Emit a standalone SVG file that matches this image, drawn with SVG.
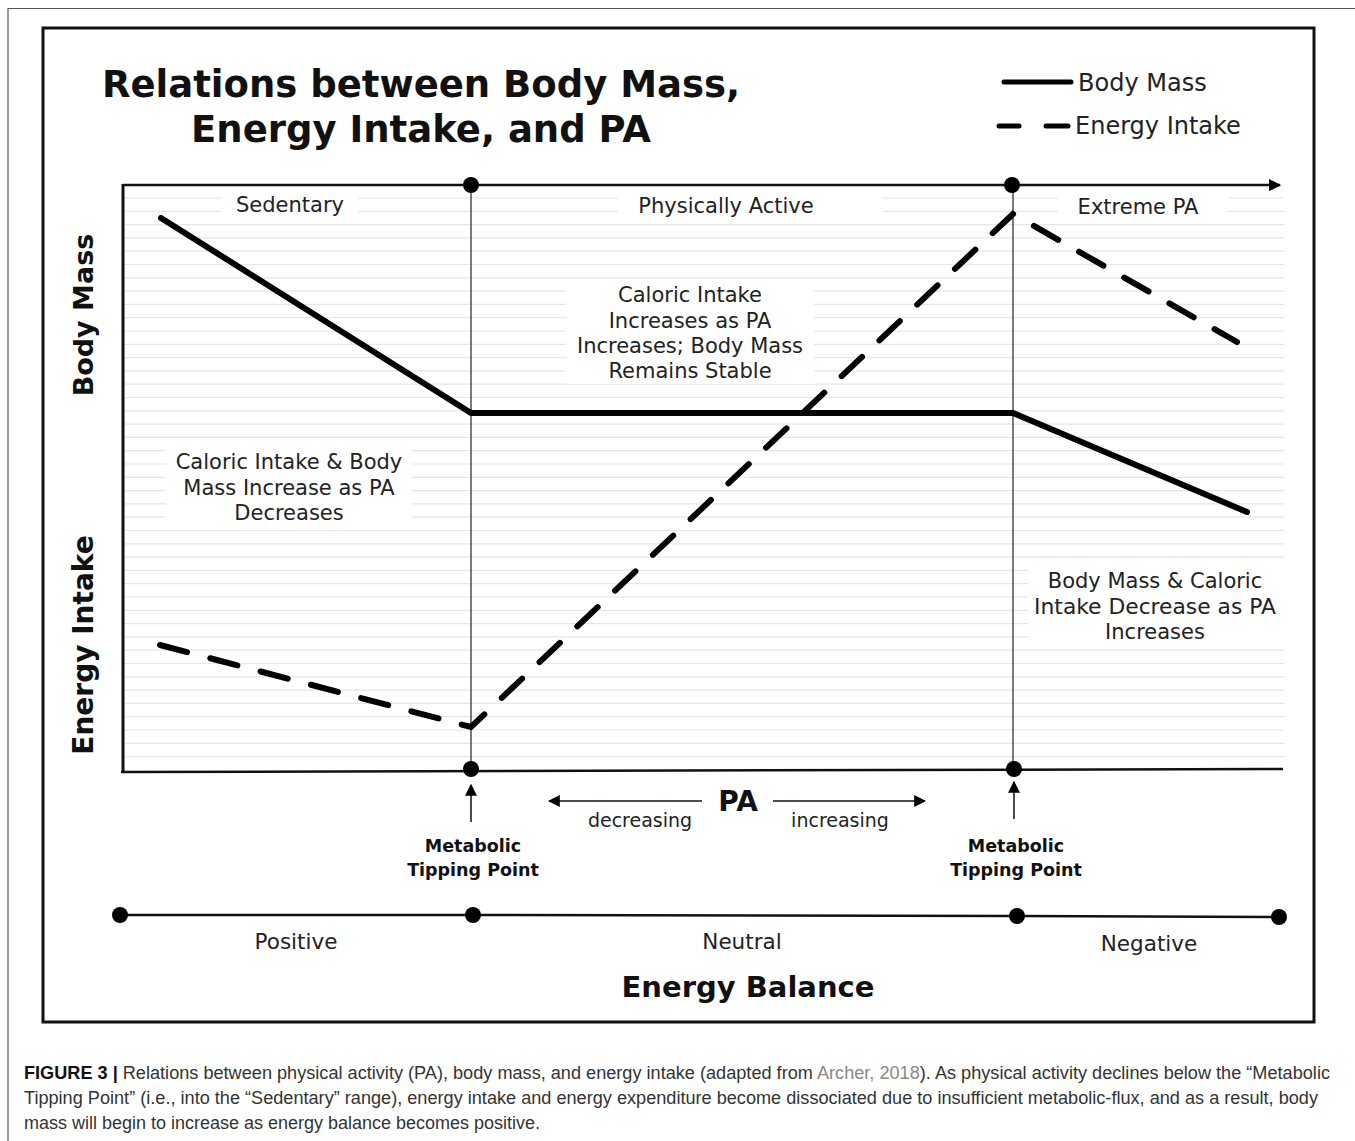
<svg xmlns="http://www.w3.org/2000/svg" width="1355" height="1141" viewBox="0 0 1355 1141">
<style>
.t{font-family:"DejaVu Sans",Verdana,sans-serif;fill:#222;font-size:21px;text-anchor:middle}
.b{font-weight:bold;fill:#111}
.cap{font-family:"Liberation Sans",Arial,sans-serif;font-size:17.5px;fill:#333}
.grid line{stroke:#e6e6e6;stroke-width:1.2}
.bm{fill:none;stroke:#000;stroke-width:6;stroke-linecap:round;stroke-linejoin:round}
.ei{fill:none;stroke:#000;stroke-width:6;stroke-dasharray:28 24;stroke-linecap:round}
.ax{stroke:#111;fill:none}
</style>
<defs>
<marker id="ah" viewBox="0 0 10 10" refX="9" refY="5" markerWidth="5" markerHeight="5" orient="auto"><path d="M0,0L10,5L0,10z" fill="#000"/></marker>
<marker id="ah2" viewBox="0 0 10 10" refX="9" refY="5" markerWidth="12" markerHeight="12" orient="auto" markerUnits="userSpaceOnUse"><path d="M0,0L10,5L0,10z" fill="#000"/></marker>
</defs>
<rect width="1355" height="1141" fill="#fff"/>
<path d="M8,1141V8.5H1355" fill="none" stroke="#555" stroke-width="1.2"/>
<rect x="43" y="28" width="1271" height="994" fill="#fff" stroke="#111" stroke-width="3"/>

<g id="grid" class="grid">
<line x1="125" y1="198" x2="1284" y2="198"/><line x1="125" y1="211.3" x2="1284" y2="211.3"/>
<line x1="125" y1="224.6" x2="1284" y2="224.6"/><line x1="125" y1="237.9" x2="1284" y2="237.9"/>
<line x1="125" y1="251.2" x2="1284" y2="251.2"/><line x1="125" y1="264.5" x2="1284" y2="264.5"/>
<line x1="125" y1="277.8" x2="1284" y2="277.8"/><line x1="125" y1="291.1" x2="1284" y2="291.1"/>
<line x1="125" y1="304.4" x2="1284" y2="304.4"/><line x1="125" y1="317.7" x2="1284" y2="317.7"/>
<line x1="125" y1="331" x2="1284" y2="331"/><line x1="125" y1="344.3" x2="1284" y2="344.3"/>
<line x1="125" y1="357.6" x2="1284" y2="357.6"/><line x1="125" y1="370.9" x2="1284" y2="370.9"/>
<line x1="125" y1="384.2" x2="1284" y2="384.2"/><line x1="125" y1="397.5" x2="1284" y2="397.5"/>
<line x1="125" y1="410.8" x2="1284" y2="410.8"/><line x1="125" y1="424.1" x2="1284" y2="424.1"/>
<line x1="125" y1="437.4" x2="1284" y2="437.4"/><line x1="125" y1="450.7" x2="1284" y2="450.7"/>
<line x1="125" y1="464" x2="1284" y2="464"/><line x1="125" y1="477.3" x2="1284" y2="477.3"/>
<line x1="125" y1="490.6" x2="1284" y2="490.6"/><line x1="125" y1="503.9" x2="1284" y2="503.9"/>
<line x1="125" y1="517.2" x2="1284" y2="517.2"/><line x1="125" y1="530.5" x2="1284" y2="530.5"/>
<line x1="125" y1="543.8" x2="1284" y2="543.8"/><line x1="125" y1="557.1" x2="1284" y2="557.1"/>
<line x1="125" y1="570.4" x2="1284" y2="570.4"/><line x1="125" y1="583.7" x2="1284" y2="583.7"/>
<line x1="125" y1="597" x2="1284" y2="597"/><line x1="125" y1="610.3" x2="1284" y2="610.3"/>
<line x1="125" y1="623.6" x2="1284" y2="623.6"/><line x1="125" y1="636.9" x2="1284" y2="636.9"/>
<line x1="125" y1="650.2" x2="1284" y2="650.2"/><line x1="125" y1="663.5" x2="1284" y2="663.5"/>
<line x1="125" y1="676.8" x2="1284" y2="676.8"/><line x1="125" y1="690.1" x2="1284" y2="690.1"/>
<line x1="125" y1="703.4" x2="1284" y2="703.4"/><line x1="125" y1="716.7" x2="1284" y2="716.7"/>
<line x1="125" y1="730" x2="1284" y2="730"/><line x1="125" y1="743.3" x2="1284" y2="743.3"/>
<line x1="125" y1="756.6" x2="1284" y2="756.6"/>
</g>

<g fill="#fff">
<rect x="222" y="188" width="136" height="32"/>
<rect x="618" y="188" width="264" height="32"/>
<rect x="1058" y="188" width="170" height="32"/>
<rect x="566" y="280" width="248" height="104"/>
<rect x="166" y="447" width="246" height="80"/>
<rect x="1028" y="565" width="256" height="80"/>
</g>

<g id="title">
<text class="t b" x="421" y="97" style="font-size:37px">Relations between Body Mass,</text>
<text class="t b" x="421" y="142" style="font-size:37px">Energy Intake, and PA</text>
</g>

<g id="legend">
<line x1="1004" y1="82" x2="1071" y2="82" stroke="#000" stroke-width="5" stroke-linecap="round"/>
<line x1="999" y1="126" x2="1019" y2="126" stroke="#000" stroke-width="5" stroke-linecap="round"/>
<line x1="1046" y1="126" x2="1068" y2="126" stroke="#000" stroke-width="5" stroke-linecap="round"/>
<text class="t" x="1078" y="91" style="font-size:24px;text-anchor:start">Body Mass</text>
<text class="t" x="1075" y="134" style="font-size:24px;text-anchor:start">Energy Intake</text>
</g>

<g id="axes">
<line x1="123" y1="185" x2="1280" y2="185" class="ax" stroke-width="2.5" marker-end="url(#ah)"/>
<line x1="123" y1="184" x2="123" y2="773" class="ax" stroke-width="3"/>
<line x1="121" y1="772" x2="1283" y2="769" class="ax" stroke-width="2.5"/>
<line x1="471" y1="185" x2="471" y2="770" stroke="#333" stroke-width="1.3"/>
<line x1="1013" y1="185" x2="1013" y2="769" stroke="#333" stroke-width="1.3"/>
<circle cx="471" cy="185" r="8"/>
<circle cx="1012" cy="185" r="8"/>
<circle cx="471" cy="769" r="8"/>
<circle cx="1014" cy="769" r="8"/>
</g>

<g id="axis-labels">
<text class="t b" style="font-size:27px" transform="translate(93,315) rotate(-90)">Body Mass</text>
<text class="t b" style="font-size:28px" transform="translate(93,645) rotate(-90)">Energy Intake</text>
</g>

<g id="regions">
<text class="t" x="290" y="212">Sedentary</text>
<text class="t" x="726" y="213">Physically Active</text>
<text class="t" x="1138" y="214">Extreme PA</text>
</g>

<g id="connectors">
<polyline class="bm" points="161,218 471,413 1013,413 1247,512"/>
<polyline class="ei" points="160,645 471,727 1013,214 1237,342"/>
</g>

<g id="notes">
<text class="t" x="690" y="302">Caloric Intake</text>
<text class="t" x="690" y="328">Increases as PA</text>
<text class="t" x="690" y="353">Increases; Body Mass</text>
<text class="t" x="690" y="378">Remains Stable</text>
<text class="t" x="289" y="469">Caloric Intake &amp; Body</text>
<text class="t" x="289" y="495">Mass Increase as PA</text>
<text class="t" x="289" y="520">Decreases</text>
<text class="t" x="1155" y="588">Body Mass &amp; Caloric</text>
<text class="t" x="1155" y="614" style="font-size:21.8px">Intake Decrease as PA</text>
<text class="t" x="1155" y="639">Increases</text>
</g>

<g id="tipping">
<line x1="471" y1="822" x2="471" y2="785" stroke="#111" stroke-width="1.5" marker-end="url(#ah2)"/>
<line x1="1014" y1="819" x2="1014" y2="782" stroke="#111" stroke-width="1.5" marker-end="url(#ah2)"/>
<text class="t b" x="473" y="852" style="font-size:17.5px">Metabolic</text>
<text class="t b" x="473" y="876" style="font-size:17.5px">Tipping Point</text>
<text class="t b" x="1016" y="852" style="font-size:17.5px">Metabolic</text>
<text class="t b" x="1016" y="876" style="font-size:17.5px">Tipping Point</text>
</g>

<g id="pa">
<line x1="702" y1="801" x2="549" y2="801" stroke="#111" stroke-width="1.5" marker-end="url(#ah2)"/>
<line x1="773" y1="801" x2="925" y2="801" stroke="#111" stroke-width="1.5" marker-end="url(#ah2)"/>
<text class="t b" x="738" y="811" style="font-size:28px">PA</text>
<text class="t" x="640" y="827" style="font-size:19px">decreasing</text>
<text class="t" x="840" y="827" style="font-size:19px">increasing</text>
</g>

<g id="balance">
<polyline points="120,915 473,915 1017,916 1279,917" fill="none" stroke="#111" stroke-width="2.5"/>
<circle cx="120" cy="915" r="8"/>
<circle cx="473" cy="915" r="8"/>
<circle cx="1017" cy="916" r="8"/>
<circle cx="1279" cy="917" r="8"/>
<text class="t" x="296" y="949" style="font-size:21.5px">Positive</text>
<text class="t" x="742" y="949" style="font-size:21.5px">Neutral</text>
<text class="t" x="1149" y="951" style="font-size:21.5px">Negative</text>
<text class="t b" x="748" y="997" style="font-size:29px">Energy Balance</text>
</g>

<g id="caption" class="cap">
<text x="24" y="1079" textLength="1306" lengthAdjust="spacingAndGlyphs"><tspan font-weight="bold" fill="#111">FIGURE 3 |</tspan> Relations between physical activity (PA), body mass, and energy intake (adapted from <tspan fill="#888">Archer, 2018</tspan>). As physical activity declines below the “Metabolic</text>
<text x="24" y="1104" textLength="1294" lengthAdjust="spacingAndGlyphs">Tipping Point” (i.e., into the “Sedentary” range), energy intake and energy expenditure become dissociated due to insufficient metabolic-flux, and as a result, body</text>
<text x="24" y="1129" textLength="516" lengthAdjust="spacingAndGlyphs">mass will begin to increase as energy balance becomes positive.</text>
</g>
</svg>
